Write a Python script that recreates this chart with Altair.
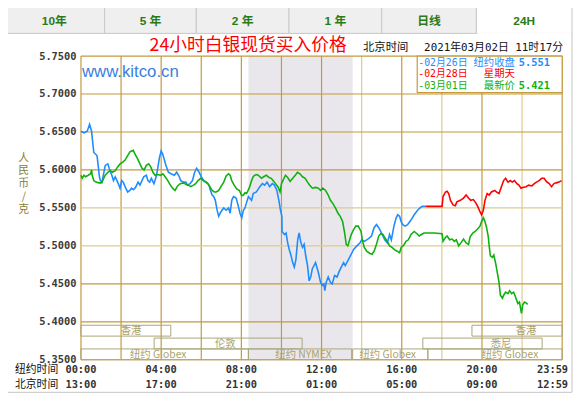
import altair as alt
import pandas as pd

# ---------------- data (hour of New York day, price RMB/g) ----------------
blue_pts = [
    (0.00, 5.651), (0.15, 5.649), (0.31, 5.651), (0.43, 5.660), (0.53, 5.651),
    (0.56, 5.643), (0.64, 5.623), (0.72, 5.621), (0.80, 5.619), (0.85, 5.608),
    (0.92, 5.591), (0.97, 5.586), (1.05, 5.584), (1.21, 5.606), (1.34, 5.608),
    (1.41, 5.602), (1.54, 5.593), (1.62, 5.586), (1.71, 5.591), (1.83, 5.584),
    (1.95, 5.576), (2.03, 5.586), (2.11, 5.584), (2.20, 5.578), (2.33, 5.571),
    (2.44, 5.573), (2.52, 5.576), (2.61, 5.574), (2.72, 5.577), (2.85, 5.584),
    (2.94, 5.580), (3.01, 5.584), (3.13, 5.591), (3.26, 5.593), (3.34, 5.586),
    (3.43, 5.584), (3.51, 5.589), (3.64, 5.582), (3.75, 5.591), (3.84, 5.604),
    (3.92, 5.617), (4.00, 5.625), (4.08, 5.621), (4.17, 5.612), (4.24, 5.606),
    (4.36, 5.597), (4.49, 5.595), (4.66, 5.593), (4.77, 5.597), (4.87, 5.593),
    (4.98, 5.586), (5.11, 5.584), (5.23, 5.584), (5.31, 5.580), (5.44, 5.582),
    (5.56, 5.586), (5.67, 5.597), (5.77, 5.602), (5.89, 5.597), (6.00, 5.591),
    (6.13, 5.586), (6.26, 5.584), (6.38, 5.580), (6.46, 5.573), (6.54, 5.567),
    (6.62, 5.565), (6.70, 5.560), (6.79, 5.547), (6.87, 5.539), (6.98, 5.545),
    (7.12, 5.550), (7.24, 5.547), (7.36, 5.550), (7.44, 5.543), (7.52, 5.560),
    (7.61, 5.565), (7.74, 5.563), (7.85, 5.552), (7.93, 5.543), (8.02, 5.537),
    (8.10, 5.547), (8.18, 5.550), (8.35, 5.565), (8.51, 5.560), (8.59, 5.569),
    (8.75, 5.571), (8.92, 5.578), (9.05, 5.582), (9.16, 5.580), (9.28, 5.584),
    (9.41, 5.578), (9.54, 5.582), (9.65, 5.580), (9.77, 5.573), (9.87, 5.560),
    (9.95, 5.547), (10.02, 5.539), (10.03, 5.519), (10.15, 5.515), (10.23, 5.517),
    (10.31, 5.504), (10.39, 5.495), (10.48, 5.487), (10.56, 5.478), (10.64, 5.472),
    (10.72, 5.482), (10.81, 5.508), (10.88, 5.517), (10.97, 5.504), (11.05, 5.498),
    (11.13, 5.502), (11.21, 5.487), (11.30, 5.474), (11.38, 5.454), (11.46, 5.459),
    (11.54, 5.470), (11.70, 5.478), (11.84, 5.465), (11.95, 5.452), (12.03, 5.448),
    (12.11, 5.450), (12.16, 5.441), (12.23, 5.452), (12.33, 5.459), (12.44, 5.452),
    (12.53, 5.450), (12.65, 5.461), (12.77, 5.459), (12.89, 5.467), (13.02, 5.474),
    (13.10, 5.478), (13.18, 5.474), (13.34, 5.482), (13.48, 5.489), (13.59, 5.495),
    (13.76, 5.500), (13.92, 5.504), (14.00, 5.508), (14.13, 5.506), (14.25, 5.508),
    (14.36, 5.510), (14.49, 5.513), (14.62, 5.524), (14.74, 5.528), (14.85, 5.524),
    (14.95, 5.519), (15.06, 5.513), (15.15, 5.508), (15.28, 5.504), (15.39, 5.515),
    (15.48, 5.508), (15.61, 5.526), (15.72, 5.537), (15.80, 5.541), (15.89, 5.539),
    (15.97, 5.532), (16.05, 5.528), (16.17, 5.526), (16.29, 5.528), (16.46, 5.534),
    (16.62, 5.541), (16.79, 5.547), (16.95, 5.551), (17.03, 5.552), (17.20, 5.552),
]

red_pts = [
    (17.20, 5.552), (18.01, 5.552), (18.06, 5.565), (18.18, 5.571), (18.26, 5.572),
    (18.34, 5.569), (18.43, 5.560), (18.56, 5.554), (18.67, 5.553), (18.75, 5.558),
    (18.92, 5.560), (19.08, 5.563), (19.21, 5.567), (19.33, 5.563), (19.44, 5.560),
    (19.57, 5.561), (19.71, 5.556), (19.82, 5.550), (19.90, 5.545), (19.98, 5.541),
    (20.07, 5.547), (20.15, 5.560), (20.26, 5.569), (20.36, 5.567), (20.47, 5.571),
    (20.64, 5.573), (20.72, 5.571), (20.85, 5.569), (20.97, 5.578), (21.08, 5.586),
    (21.18, 5.589), (21.30, 5.584), (21.41, 5.586), (21.51, 5.584), (21.62, 5.586),
    (21.74, 5.582), (21.84, 5.580), (21.95, 5.576), (22.03, 5.577), (22.20, 5.578),
    (22.33, 5.580), (22.49, 5.579), (22.61, 5.582), (22.72, 5.584), (22.85, 5.586),
    (22.98, 5.589), (23.10, 5.589), (23.21, 5.585), (23.35, 5.582), (23.47, 5.578),
    (23.59, 5.582), (23.70, 5.583), (23.84, 5.584), (23.97, 5.586),
]

green_pts = [
    (0.00, 5.593), (0.06, 5.589), (0.15, 5.593), (0.23, 5.591), (0.36, 5.593),
    (0.48, 5.595), (0.53, 5.600), (0.56, 5.593), (0.64, 5.586), (0.75, 5.584),
    (0.89, 5.583), (1.02, 5.583), (1.08, 5.586), (1.21, 5.593), (1.34, 5.597),
    (1.46, 5.599), (1.57, 5.597), (1.71, 5.599), (1.83, 5.604), (1.95, 5.608),
    (2.07, 5.610), (2.20, 5.613), (2.33, 5.619), (2.44, 5.624), (2.52, 5.625),
    (2.61, 5.626), (2.69, 5.621), (2.82, 5.615), (2.94, 5.608), (3.05, 5.602),
    (3.15, 5.600), (3.26, 5.606), (3.38, 5.608), (3.48, 5.604), (3.59, 5.597),
    (3.70, 5.593), (3.84, 5.594), (3.97, 5.593), (4.08, 5.595), (4.20, 5.591),
    (4.33, 5.586), (4.46, 5.580), (4.57, 5.576), (4.69, 5.573), (4.82, 5.579),
    (4.95, 5.582), (5.11, 5.583), (5.23, 5.581), (5.35, 5.580), (5.47, 5.578),
    (5.61, 5.580), (5.72, 5.582), (5.84, 5.586), (5.97, 5.589), (6.10, 5.586),
    (6.21, 5.584), (6.33, 5.582), (6.43, 5.578), (6.54, 5.573), (6.65, 5.571),
    (6.75, 5.571), (6.87, 5.573), (6.98, 5.578), (7.12, 5.584), (7.24, 5.592),
    (7.36, 5.595), (7.44, 5.593), (7.52, 5.586), (7.64, 5.580), (7.77, 5.575),
    (7.90, 5.573), (8.02, 5.566), (8.10, 5.567), (8.18, 5.570), (8.26, 5.569),
    (8.39, 5.576), (8.51, 5.586), (8.59, 5.591), (8.67, 5.593), (8.79, 5.594),
    (8.89, 5.592), (9.00, 5.589), (9.11, 5.591), (9.25, 5.593), (9.38, 5.590),
    (9.49, 5.589), (9.61, 5.585), (9.70, 5.582), (9.82, 5.578), (9.93, 5.571),
    (10.00, 5.582), (10.07, 5.586), (10.20, 5.593), (10.31, 5.590), (10.43, 5.585),
    (10.56, 5.589), (10.69, 5.593), (10.80, 5.597), (10.92, 5.595), (11.05, 5.591),
    (11.18, 5.589), (11.30, 5.584), (11.41, 5.580), (11.54, 5.576), (11.70, 5.577),
    (11.84, 5.576), (11.95, 5.573), (12.06, 5.576), (12.20, 5.573), (12.33, 5.567),
    (12.44, 5.560), (12.56, 5.556), (12.69, 5.550), (12.82, 5.543), (12.93, 5.539),
    (13.05, 5.532), (13.15, 5.517), (13.23, 5.502), (13.31, 5.500), (13.38, 5.506),
    (13.48, 5.515), (13.59, 5.521), (13.71, 5.526), (13.83, 5.526), (13.97, 5.519),
    (14.03, 5.508), (14.13, 5.498), (14.25, 5.493), (14.41, 5.490), (14.52, 5.489),
    (14.62, 5.493), (14.74, 5.502), (14.85, 5.513), (14.95, 5.516), (15.06, 5.515),
    (15.15, 5.511), (15.28, 5.506), (15.39, 5.500), (15.51, 5.498), (15.64, 5.495),
    (15.77, 5.493), (15.89, 5.491), (15.97, 5.498), (16.10, 5.501), (16.21, 5.506),
    (16.33, 5.508), (16.46, 5.515), (16.62, 5.519), (16.76, 5.516), (16.87, 5.513),
    (16.98, 5.515), (17.11, 5.517), (17.61, 5.517), (18.01, 5.516), (18.06, 5.506),
    (18.18, 5.511), (18.26, 5.513), (18.39, 5.508), (18.51, 5.509), (18.62, 5.506),
    (18.72, 5.508), (18.84, 5.500), (18.95, 5.504), (19.08, 5.509), (19.21, 5.504),
    (19.33, 5.502), (19.41, 5.512), (19.54, 5.517), (19.66, 5.519), (19.77, 5.522),
    (19.90, 5.526), (19.98, 5.532), (20.07, 5.537), (20.15, 5.532), (20.23, 5.524),
    (20.31, 5.513), (20.36, 5.500), (20.42, 5.487), (20.52, 5.485), (20.59, 5.488),
    (20.69, 5.476), (20.75, 5.467), (20.85, 5.452), (20.92, 5.435), (21.02, 5.431),
    (21.08, 5.435), (21.18, 5.439), (21.30, 5.437), (21.38, 5.441), (21.48, 5.437),
    (21.58, 5.439), (21.67, 5.433), (21.79, 5.424), (21.87, 5.426), (21.97, 5.411),
    (22.03, 5.422), (22.12, 5.426), (22.20, 5.425), (22.28, 5.423),
]

price_ticks = [5.35, 5.40, 5.45, 5.50, 5.55, 5.60, 5.65, 5.70, 5.75]
light_prices = [5.50, 5.55]
grid_hours = [0, 2, 4, 6, 8, 10, 12, 14, 16, 18, 20, 22, 24]
light_hours = [14, 18, 22]
label_hours = [0, 4, 8, 12, 16, 20]
ny_labels = ["00:00", "04:00", "08:00", "12:00", "16:00", "20:00"]
bj_labels = ["13:00", "17:00", "21:00", "01:00", "05:00", "09:00"]
end_ny, end_bj = "23:59", "12:59"
nymex_span = (8.35, 13.55)

tabs = ["10年", "5 年", "2 年", "1 年", "日线", "24H"]
sessions = [
    # row, start, end, label, label position
    (1, 0.0, 4.48, "香港", 2.5), (1, 19.5, 24.0, "香港", 22.2),
    (2, 3.65, 11.03, "伦敦", 7.2), (2, 17.05, 23.0, "悉尼", 20.95),
    (3, 0.0, 8.35, "纽约 Globex", 3.85), (3, 8.35, 13.5, "纽约 NYMEX", 11.1),
    (3, 13.55, 17.3, "纽约 Globex", 15.3), (3, 17.3, 24.0, "纽约 Globex", 21.4),
]

# ---------------- layout / style ----------------
W, H = 488, 308
GOLD = "#c49a3c"
GOLD_L = "#dccb92"
BLUE, RED, GREEN = "#1e8cff", "#ff0000", "#10b010"
MONO = "DejaVu Sans Mono, Noto Sans CJK SC"
CJK = "Noto Sans CJK SC"

xs = alt.Scale(domain=[0, 24], nice=False, zero=False)
ys = alt.Scale(domain=[5.35, 5.75], nice=False, zero=False)
yaxis = alt.Axis(values=price_ticks, format=".4f", grid=False, domain=False, ticks=False,
                 labelPadding=5, labelFont="DejaVu Sans Mono", labelFontSize=10.5,
                 labelFontWeight="bold", labelColor="#3a3a3a", title=None, zindex=3)

one = pd.DataFrame({"a": [0]})
layers = []


def deco_rect(x, x2, y, y2, fill, stroke, sw=1):
    return alt.Chart(one).mark_rect(fill=fill, stroke=stroke, strokeWidth=sw).encode(
        x=alt.value(x), x2=alt.value(x2), y=alt.value(y), y2=alt.value(y2))


def deco_text(txt, x, y, color, size, font=CJK, align="left", weight="normal"):
    return alt.Chart(one).mark_text(text=txt, color=color, fontSize=size, font=font,
                                    align=align, baseline="middle", fontWeight=weight).encode(
        x=alt.value(x), y=alt.value(y))


# outer content box
layers.append(deco_rect(-78.5, 498, -23, 341, "white", "#c4c4c4"))

# tabs
tab_edges = [-78, 24, 117, 211, 305, 401, 498]
for i, t in enumerate(tabs):
    sel = i == len(tabs) - 1
    layers.append(deco_rect(tab_edges[i], tab_edges[i + 1], -50, -23,
                            "white" if sel else "#efefef", "#c8c8c8"))
    if sel:
        layers.append(alt.Chart(one).mark_rule(color="white", strokeWidth=2).encode(
            x=alt.value(tab_edges[i] + 1), x2=alt.value(tab_edges[i + 1] - 1), y=alt.value(-23)))
    layers.append(deco_text(t, (tab_edges[i] + tab_edges[i + 1]) / 2, -36, "#2a7a16", 12,
                            font="Liberation Sans, Noto Sans CJK SC", align="center", weight="bold"))

# NYMEX shading
shade = pd.DataFrame({"s": [nymex_span[0]], "e": [nymex_span[1]]})
layers.append(alt.Chart(shade).mark_rect(color="#e9e7ec").encode(
    x=alt.X("s:Q", scale=xs, axis=None), x2="e:Q", y=alt.value(0), y2=alt.value(H)))

# grid
vg = pd.DataFrame({"h": grid_hours, "light": [h in light_hours for h in grid_hours]})
hg = pd.DataFrame({"p": price_ticks, "light": [p in light_prices for p in price_ticks]})
layers.append(alt.Chart(vg).mark_rule(strokeWidth=1.2).encode(
    x=alt.X("h:Q", scale=xs, axis=None),
    color=alt.condition("datum.light", alt.value(GOLD_L), alt.value(GOLD))))
layers.append(alt.Chart(hg).mark_rule(strokeWidth=1.2).encode(
    y=alt.Y("p:Q", scale=ys, axis=yaxis),
    color=alt.condition("datum.light", alt.value(GOLD_L), alt.value(GOLD))))

# trading sessions
sdf = pd.DataFrame(sessions, columns=["row", "start", "end", "label", "lh"])
row_y = {1: (273, 284), 2: (286, 297), 3: (297, 308)}
for r, (y0, y1) in row_y.items():
    sub = sdf[sdf.row == r]
    layers.append(alt.Chart(sub).mark_rect(fill=None, stroke="#aaa67a", strokeWidth=1).encode(
        x=alt.X("start:Q", scale=xs, axis=None), x2="end:Q", y=alt.value(y0), y2=alt.value(y1)))
    layers.append(alt.Chart(sub).mark_text(color="#aaa26a", fontSize=10.5, font=CJK,
                                           baseline="middle").encode(
        x=alt.X("lh:Q", scale=xs, axis=None), y=alt.value((y0 + y1) / 2 + 0.5), text="label:N"))

# series lines
for pts, col in [(blue_pts, BLUE), (green_pts, GREEN), (red_pts, RED)]:
    df = pd.DataFrame(pts, columns=["h", "p"])
    layers.append(alt.Chart(df).mark_line(color=col, strokeWidth=1.6).encode(
        x=alt.X("h:Q", scale=xs, axis=None), y=alt.Y("p:Q", scale=ys, axis=yaxis)))

# legend box
layers.append(deco_rect(341, 488, 0, 37, "white", GOLD, 1.2))
legend_rows = [("-02月26日", "纽约收盘", "5.551", BLUE, 7),
               ("-02月28日", "星期天", "", RED, 18.5),
               ("-03月01日", "最新价", "5.421", GREEN, 30)]
for d, word, val, col, y in legend_rows:
    layers.append(deco_text(d, 342, y, col, 10, font=MONO))
    layers.append(deco_text(word, 440, y, col, 10.5, font=CJK, align="right"))
    if val:
        layers.append(deco_text(val, 444, y, col, 10.5, font=MONO, weight="bold"))

# titles / annotations
layers.append(deco_text("24小时白银现货买入价格", 169.5, -10, "#ff0000", 18, align="center"))
layers.append(deco_text("北京时间", 286, -8, "#111111", 11.5))
layers.append(deco_text("2021年03月02日 11时17分", 348, -8, "#111111", 11, font=MONO))
layers.append(deco_text("www.kitco.cn", 1, 16, "#3b7de0", 17, font="Liberation Sans"))
for i, ch in enumerate(["人", "民", "币", "/", "克"]):
    layers.append(deco_text(ch, -58, 104 + 13 * i, "#857f38", 11, align="center"))

# x labels
xl = pd.DataFrame({"h": label_hours, "ny": ny_labels, "bj": bj_labels})
for field, y in [("ny", 318.5), ("bj", 334)]:
    layers.append(alt.Chart(xl).mark_text(font="DejaVu Sans Mono", fontSize=10.5, fontWeight="bold",
                                          color="#333333", baseline="middle").encode(
        x=alt.X("h:Q", scale=xs, axis=None), y=alt.value(y), text=f"{field}:N"))
xe = pd.DataFrame({"h": [24], "ny": [end_ny], "bj": [end_bj]})
for field, y in [("ny", 318.5), ("bj", 334)]:
    layers.append(alt.Chart(xe).mark_text(font="DejaVu Sans Mono", fontSize=10.5, fontWeight="bold",
                                          color="#333333", baseline="middle", align="right", dx=6).encode(
        x=alt.X("h:Q", scale=xs, axis=None), y=alt.value(y), text=f"{field}:N"))
layers.append(deco_text("纽约时间", -67, 318.5, "#111111", 11))
layers.append(deco_text("北京时间", -67, 334, "#111111", 11))

chart = alt.layer(*layers).properties(
    width=W, height=H,
    autosize=alt.AutoSizeParams(type="none"),
    padding={"left": 74, "top": 46, "right": 12, "bottom": 35},
    background="white",
).configure_view(stroke=GOLD, strokeWidth=1.2, fill="white")

chart.save("out.html", embed_options={"renderer": "svg", "actions": False})
